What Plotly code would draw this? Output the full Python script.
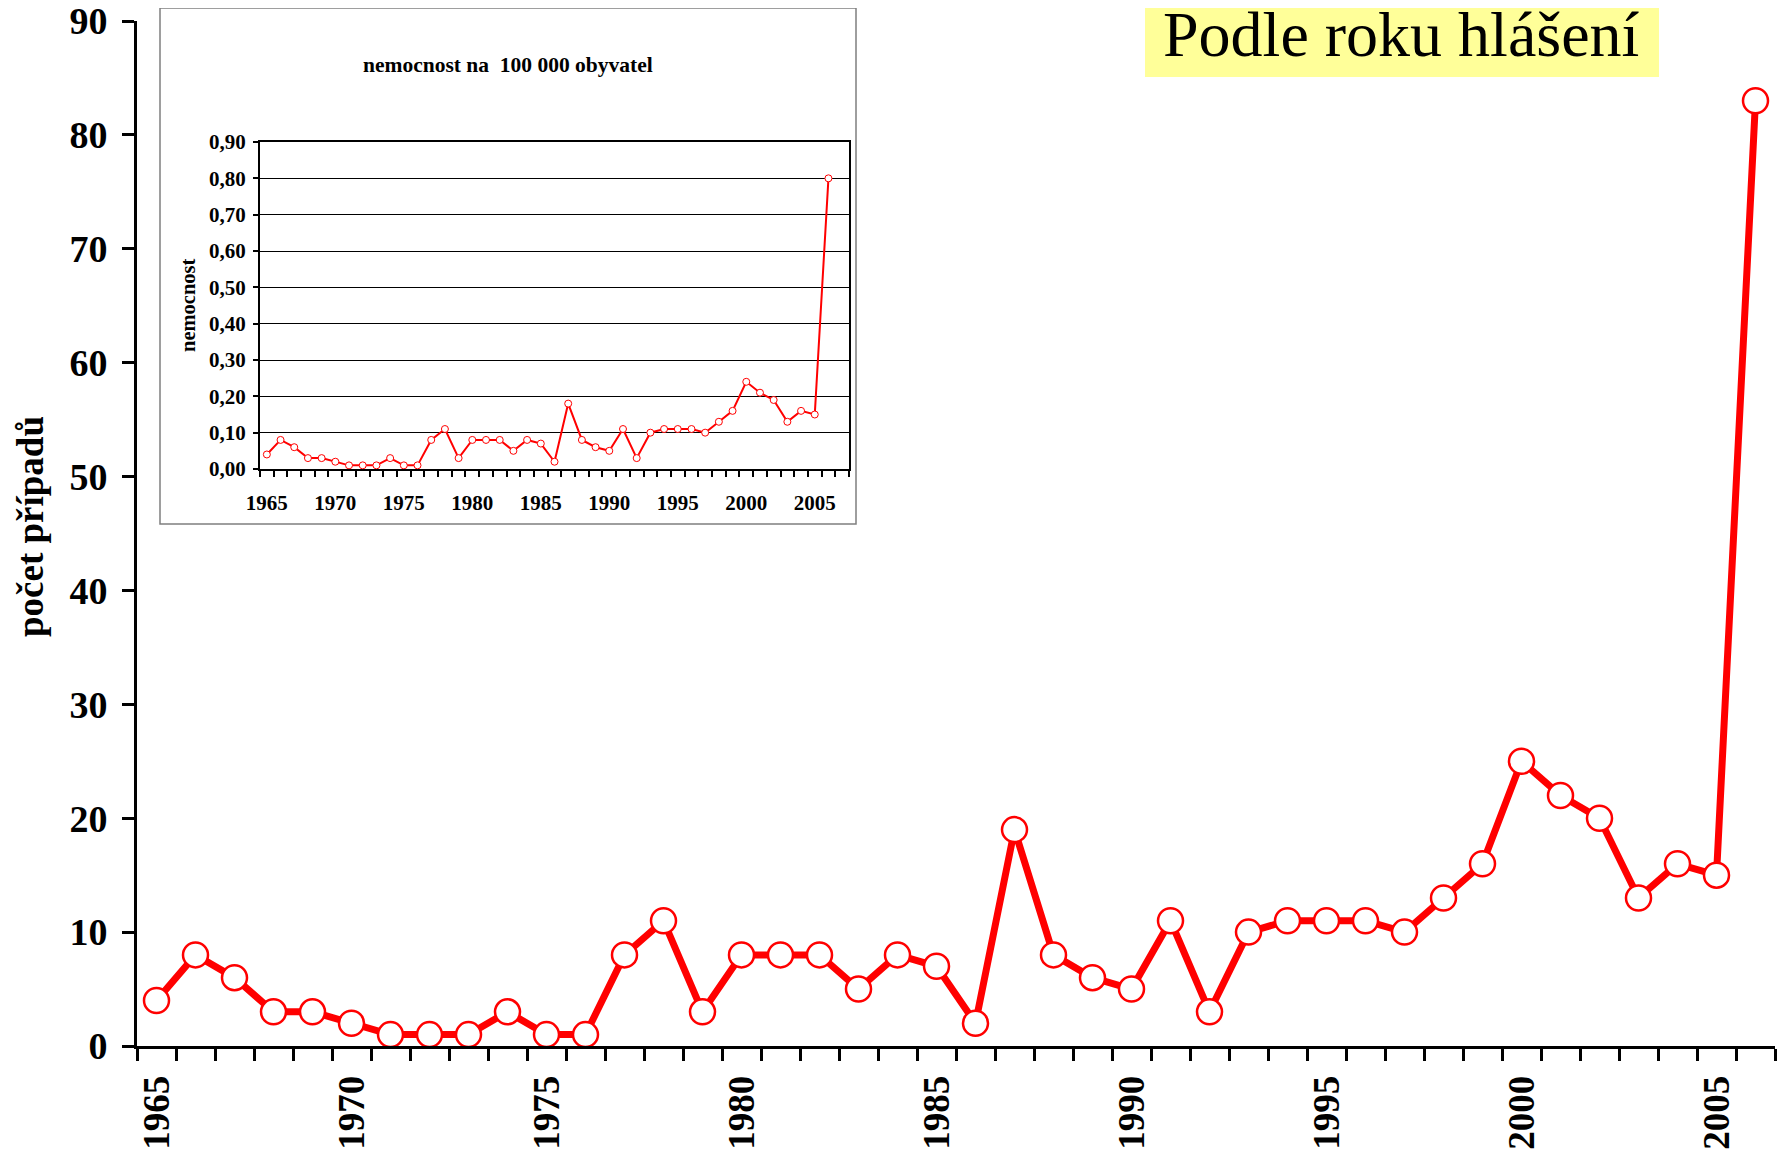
import plotly.graph_objects as go

# ---------------- data ----------------
years = list(range(1965, 2007))
cases = [4, 8, 6, 3, 3, 2, 1, 1, 1, 3, 1, 1, 8, 11, 3, 8, 8, 8, 5, 8, 7, 2,
         19, 8, 6, 5, 11, 3, 10, 11, 11, 11, 10, 13, 16, 25, 22, 20, 13, 16, 15, 83]
incidence = [0.04, 0.08, 0.06, 0.03, 0.03, 0.02, 0.01, 0.01, 0.01, 0.03, 0.01, 0.01,
             0.08, 0.11, 0.03, 0.08, 0.08, 0.08, 0.05, 0.08, 0.07, 0.02, 0.18, 0.08,
             0.06, 0.05, 0.11, 0.03, 0.10, 0.11, 0.11, 0.11, 0.10, 0.13, 0.16, 0.24,
             0.21, 0.19, 0.13, 0.16, 0.15, 0.80]
label_years = [1965, 1970, 1975, 1980, 1985, 1990, 1995, 2000, 2005]
main_title = "Podle roku hlášení"
y_title = "počet případů"
inset_title = "nemocnost na \u00a0100 000 obyvatel"
inset_y_title = "nemocnost"

# ---------------- layout geometry (pixels in the page) ----------------
W, H = 1787, 1153
OFF = 8  # default body margin of the html page
PL, PR, PT, PB = 137, 1775, 21, 1046  # main plot area in page pixels


def px_x(x):
    return (x - PL) / (PR - PL)


def px_y(y):
    return (PB - y) / (PB - PT)


SERIF = "Liberation Serif"
RED = "#FF0000"

fig = go.Figure()

fig.add_trace(go.Scatter(
    x=years, y=cases, mode="lines+markers",
    line=dict(color=RED, width=7),
    marker=dict(symbol="circle", size=25, color="white", line=dict(color=RED, width=2.5)),
    cliponaxis=False, showlegend=False, xaxis="x", yaxis="y",
))

fig.add_trace(go.Scatter(
    x=years, y=incidence, mode="lines+markers",
    line=dict(color=RED, width=2),
    marker=dict(symbol="circle", size=7, color="white", line=dict(color=RED, width=1)),
    cliponaxis=False, showlegend=False, xaxis="x2", yaxis="y2",
))

fig.update_layout(
    width=W - OFF, height=H - OFF,
    margin=dict(l=PL - OFF, r=W - PR, t=PT - OFF, b=H - PB, pad=0, autoexpand=False),
    paper_bgcolor="white", plot_bgcolor="white",
    separators=", ",
    font=dict(family=SERIF, color="black"),
    xaxis=dict(
        domain=[0, 1], range=[years[0] - 0.5, years[-1] + 0.5],
        tickmode="array", tickvals=label_years, ticktext=[str(v) for v in label_years],
        ticks="", tickangle=-90, automargin=False, ticklabeloverflow="allow",
        tickfont=dict(family=SERIF, size=37, color="black", weight="bold"),
        ticklabelstandoff=12,
        minor=dict(ticks="outside", ticklen=12, tickwidth=2.5, tickcolor="black",
                   tick0=years[0] - 0.5, dtick=1, showgrid=False),
        showline=True, linecolor="black", linewidth=3,
        showgrid=False, zeroline=False, anchor="y",
    ),
    yaxis=dict(
        domain=[0, 1], range=[0, 90], dtick=10, tick0=0, automargin=False,
        ticklabeloverflow="allow",
        ticks="outside", ticklen=12, tickwidth=2.5, tickcolor="black",
        tickfont=dict(family=SERIF, size=38, color="black", weight="bold"),
        ticklabelstandoff=7,
        showline=True, linecolor="black", linewidth=3,
        showgrid=False, zeroline=False, anchor="x",
    ),
    xaxis2=dict(
        domain=[px_x(260), px_x(849)], range=[years[0] - 0.5, years[-1] + 1.5],
        tickmode="array", tickvals=label_years, ticktext=[str(v) for v in label_years],
        ticks="", automargin=False,
        tickfont=dict(family=SERIF, size=21, color="black", weight="bold"),
        ticklabelstandoff=14,
        minor=dict(ticks="outside", ticklen=6, tickwidth=1.5, tickcolor="black",
                   tick0=years[0] - 0.5, dtick=1, showgrid=False),
        showline=True, linecolor="black", linewidth=2, mirror=True,
        showgrid=False, zeroline=False, anchor="y2",
    ),
    yaxis2=dict(
        domain=[px_y(469), px_y(142)], range=[0, 0.9], dtick=0.1, tick0=0,
        tickformat=".2f", automargin=False,
        ticks="outside", ticklen=5, tickwidth=1.5, tickcolor="black",
        tickfont=dict(family=SERIF, size=21, color="black", weight="bold"),
        ticklabelstandoff=3,
        showline=True, linecolor="black", linewidth=2, mirror=True,
        showgrid=True, gridcolor="black", gridwidth=1,
        zeroline=False, anchor="x2",
    ),
    shapes=[
        # inset frame
        dict(type="rect", xref="paper", yref="paper",
             x0=px_x(160), x1=px_x(856), y0=px_y(524), y1=px_y(8),
             fillcolor="white", line=dict(color="#7f7f7f", width=1.5), layer="below"),
        # title box
        dict(type="rect", xref="paper", yref="paper",
             x0=px_x(1145), x1=px_x(1659), y0=px_y(77), y1=px_y(OFF - 2),
             fillcolor="#FFFF99", line=dict(width=0), layer="below"),
    ],
    annotations=[
        dict(text=main_title, xref="paper", yref="paper", x=px_x(1401), y=px_y(34),
             xanchor="center", yanchor="middle", showarrow=False,
             font=dict(family=SERIF, size=64, color="black")),
        dict(text=y_title, xref="paper", yref="paper", x=px_x(30), y=px_y(527),
             xanchor="center", yanchor="middle", showarrow=False, textangle=-90,
             font=dict(family=SERIF, size=37, color="black", weight="bold")),
        dict(text=inset_title, xref="paper", yref="paper", x=px_x(508), y=px_y(65),
             xanchor="center", yanchor="middle", showarrow=False,
             font=dict(family=SERIF, size=21.5, color="black", weight="bold")),
        dict(text=inset_y_title, xref="paper", yref="paper", x=px_x(188), y=px_y(305),
             xanchor="center", yanchor="middle", showarrow=False, textangle=-90,
             font=dict(family=SERIF, size=20.5, color="black", weight="bold")),
    ],
)

fig.write_html("out.html")
